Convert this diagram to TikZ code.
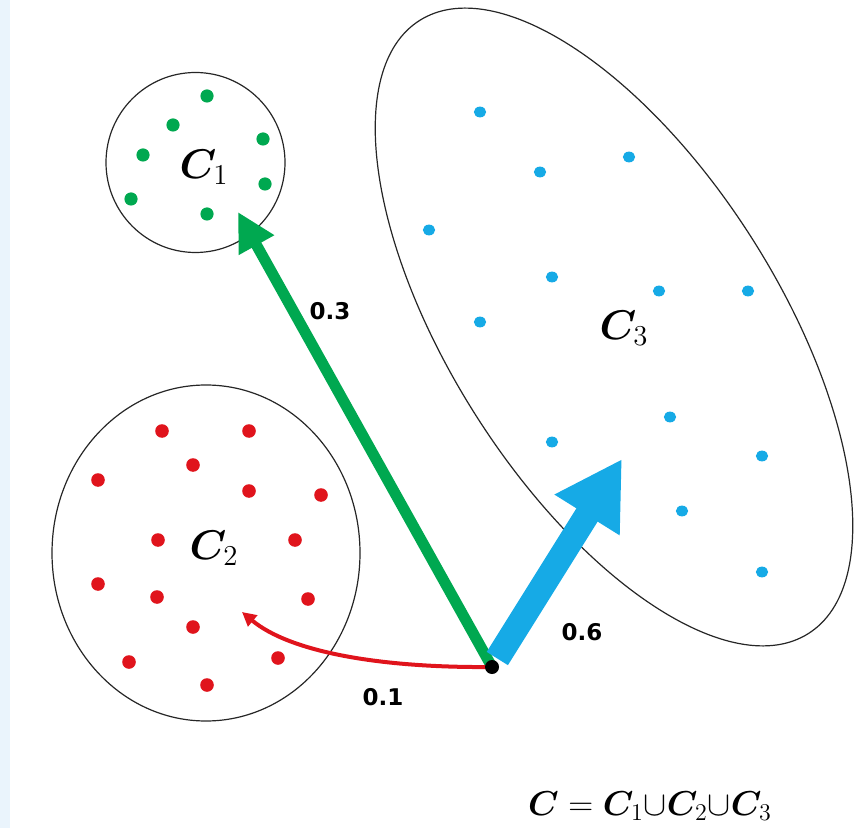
\documentclass[tikz,border=0pt]{standalone}
\usepackage{fontspec}
\usepackage{bm}
\usetikzlibrary{arrows.meta}
\newfontfamily\labfont{DejaVu Sans}
\definecolor{cgreen}{RGB}{0,168,80}
\definecolor{cred}{RGB}{224,20,28}
\definecolor{cblue}{RGB}{22,170,230}
\definecolor{strip}{RGB}{234,244,252}

\tikzstyle{clab} = [font=\fontsize{22}{26}\selectfont, inner sep=0pt]
\tikzstyle{wlab} = [font=\labfont\bfseries\fontsize{11.5}{14}\selectfont, inner sep=0pt]
\tikzstyle{flab} = [font=\fontsize{18}{22}\selectfont, inner sep=0pt]
\tikzstyle{src} = [circle, fill=black, minimum width=7pt, inner sep=0pt]
\tikzstyle{rim} = [line width=0.6pt, black!85]

\begin{document}
\begin{tikzpicture}[x=0.5pt, y=-0.5pt]
\useasboundingbox (0,0) rectangle (856,828);
\fill[strip] (0,0) rectangle (10,828);

% clusters
\draw[rim] (195.5,162.5) ellipse [x radius=89.5, y radius=90];
\draw[rim] (206,553) ellipse [x radius=154, y radius=168];
\draw[rim, rotate around={-57.6:(614,327)}] (614,327) ellipse [x radius=363, y radius=164];

\foreach \x/\y in {207/96, 173/125, 143/155, 263/139, 131/199, 265/184, 207/214}
    \fill[cgreen] (\x,\y) circle (3.3pt);
\foreach \x/\y in {162/431, 249/431, 193/465, 98/480, 249/491, 321/495, 158/540,
    295/540, 98/584, 157/597, 308/599, 193/627, 129/662, 278/658, 207/685}
    \fill[cred] (\x,\y) circle (3.4pt);
\foreach \x/\y in {480/112, 540/172, 629/157, 429/230, 552/277, 659/291, 748/291,
    480/322, 670/417, 552/442, 762/456, 682/511, 762/572}
    \fill[cblue] (\x,\y) ellipse [x radius=3.1pt, y radius=2.7pt];

\node[clab] (c1) at (204,167) {$\bm{C}_1$};
\node[clab] (c2) at (214,548) {$\bm{C}_2$};
\node[clab] (c3) at (624,328) {$\bm{C}_3$};

% arrows
\coordinate (o) at (492,667);
\coordinate (t1) at (238,212);
\coordinate (t3) at (622,459);
\coordinate (t2) at (242,612);
\draw[cgreen, line width=5.5pt, shorten <=2pt, -{Triangle[length=19pt, width=19pt]}] (o) -- (t1);
\draw[cblue, line width=12.5pt, shorten <=5pt, -{Triangle[length=33pt, width=36pt]}] (o) -- (t3);
\draw[cred, line width=2pt, -{Triangle[length=7pt, width=7pt]}]
    (o) .. controls (380,668) and (290,652) .. (t2);
\node[src] (s) at (o) {};

\node[wlab] (w1) at (330,311) {0.3};
\node[wlab] (w3) at (582,632) {0.6};
\node[wlab] (w2) at (383,697) {0.1};

\node[flab] (eq) at (650,806) {$\bm{C} = \bm{C}_1{\cup}\bm{C}_2{\cup}\bm{C}_3$};
\end{tikzpicture}
\end{document}
